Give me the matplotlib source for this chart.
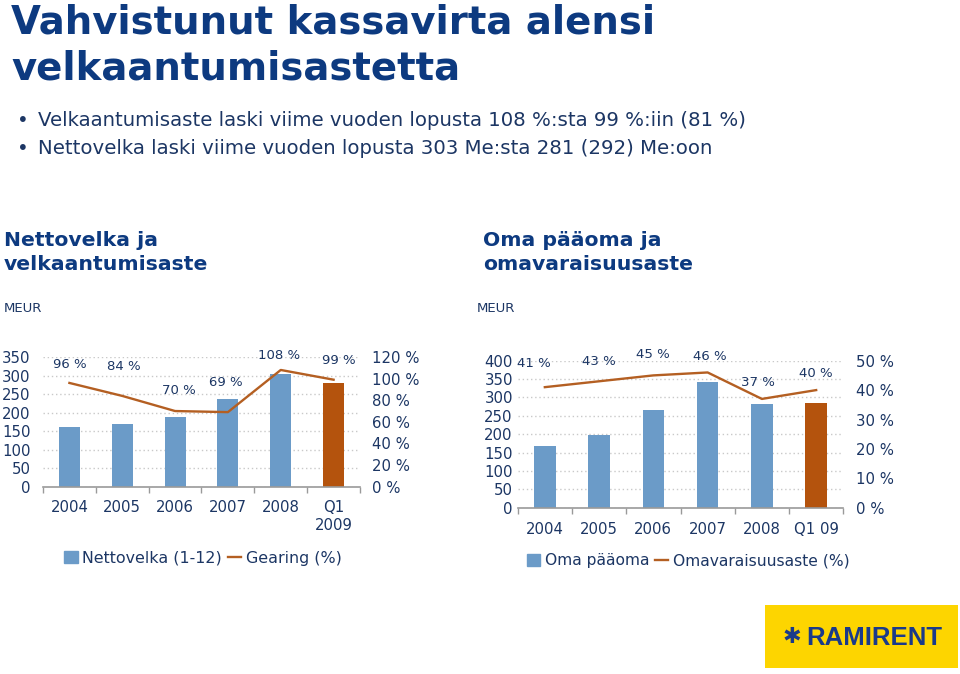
import matplotlib
matplotlib.use("Agg")
import matplotlib.pyplot as plt
from matplotlib.patches import Rectangle, Patch
from matplotlib.lines import Line2D

# ---------------- data ----------------
categories_left = ["2004", "2005", "2006", "2007", "2008", "Q1\n2009"]
nettovelka = [160, 168, 188, 237, 303, 281]
gearing = [96, 84, 70, 69, 108, 99]

categories_right = ["2004", "2005", "2006", "2007", "2008", "Q1 09"]
oma_paaoma = [168, 198, 267, 343, 282, 286]
omavaraisuusaste = [41, 43, 45, 46, 37, 40]

left_yticks = [0, 50, 100, 150, 200, 250, 300, 350]
left_y2ticks = [0, 20, 40, 60, 80, 100, 120]
right_yticks = [0, 50, 100, 150, 200, 250, 300, 350, 400]
right_y2ticks = [0, 10, 20, 30, 40, 50]

# ---------------- style ----------------
W, H = 960, 674
NAVY = "#1c3664"
TITLE = "#0d3a80"
BLUE = "#6b9bc8"
ORANGE_BAR = "#b4530d"
LINE = "#b45f22"
GRID = "#c9c9c9"
AXIS = "#9a9a9a"

fig = plt.figure(figsize=(W / 100, H / 100), dpi=100)
fig.patch.set_facecolor("white")


def rect(x0, y0, x1, y1):
    return [x0 / W, 1 - y1 / H, (x1 - x0) / W, (y1 - y0) / H]


def fx(x):
    return x / W


def fy(y):
    return 1 - y / H


# ---------------- texts ----------------
fig.text(fx(11), fy(33), "Vahvistunut kassavirta alensi", fontsize=27.8, fontweight="bold",
         color=TITLE, va="baseline", ha="left")
fig.text(fx(11), fy(80), "velkaantumisastetta", fontsize=27.8, fontweight="bold",
         color=TITLE, va="baseline", ha="left")

bullets = ["Velkaantumisaste laski viime vuoden lopusta 108 %:sta 99 %:iin (81 %)",
           "Nettovelka laski viime vuoden lopusta 303 Me:sta 281 (292) Me:oon"]
for i, b in enumerate(bullets):
    yy = 126 + i * 28.5
    fig.text(fx(17), fy(yy), "\u2022", fontsize=14.2, color=NAVY, va="baseline", ha="left")
    fig.text(fx(38), fy(yy), b, fontsize=14.2, color=NAVY, va="baseline", ha="left")

fig.text(fx(4), fy(240), "Nettovelka ja", fontsize=14.7, fontweight="bold", color=TITLE, va="center")
fig.text(fx(4), fy(264), "velkaantumisaste", fontsize=14.7, fontweight="bold", color=TITLE, va="center")
fig.text(fx(483), fy(240), "Oma pääoma ja", fontsize=14.7, fontweight="bold", color=TITLE, va="center")
fig.text(fx(483), fy(264), "omavaraisuusaste", fontsize=14.7, fontweight="bold", color=TITLE, va="center")
fig.text(fx(4), fy(309), "MEUR", fontsize=9.5, color=NAVY, va="center")
fig.text(fx(477), fy(309), "MEUR", fontsize=9.5, color=NAVY, va="center")


def style_axes(ax, ax2, cats, ypad_left, ypad_right, xpad):
    for s in ["left", "right", "top"]:
        ax.spines[s].set_visible(False)
        ax2.spines[s].set_visible(False)
    ax2.spines["bottom"].set_visible(False)
    ax.spines["bottom"].set_color(AXIS)
    ax.spines["bottom"].set_linewidth(1.2)
    n = len(cats)
    ax.set_xlim(-0.5, n - 0.5)
    ax.set_xticks(range(n))
    ax.set_xticklabels(cats, fontsize=10.7, color=NAVY, linespacing=1.3)
    ax.set_xticks([i - 0.5 for i in range(n + 1)], minor=True)
    ax.tick_params(axis="x", which="major", length=0, pad=xpad)
    ax.tick_params(axis="x", which="minor", length=4, color=AXIS, width=1)
    ax.tick_params(axis="y", length=0, labelsize=10.7, labelcolor=NAVY, pad=ypad_left)
    ax2.tick_params(axis="y", length=0, labelsize=10.7, labelcolor=NAVY, pad=ypad_right)
    ax.yaxis.grid(True, linestyle=(0, (1, 2)), color=GRID, linewidth=1)
    ax.set_axisbelow(True)
    ax.set_facecolor("none")
    ax2.set_facecolor("none")


# ---------------- left chart ----------------
axL = fig.add_axes(rect(43, 357, 360, 486.7))
axL2 = axL.twinx()
xs = list(range(len(categories_left)))
colsL = [BLUE] * (len(xs) - 1) + [ORANGE_BAR]
axL.bar(xs, nettovelka, width=0.4, color=colsL, zorder=2)
axL.set_ylim(0, 350)
axL.set_yticks(left_yticks)
axL2.plot(xs, gearing, color=LINE, lw=1.7, zorder=3)
axL2.set_ylim(0, 120)
axL2.set_yticks(left_y2ticks)
axL2.set_yticklabels([f"{v} %" for v in left_y2ticks])
style_axes(axL, axL2, categories_left, 9, 9, 9.5)
offsL = [(0, 18), (2, 29), (4, 21), (-2, 30), (-2, 14), (5, 19)]
for x, v, (dx, dy) in zip(xs, gearing, offsL):
    axL2.annotate(f"{v} %", (x, v), xytext=(dx, dy), textcoords="offset pixels",
                  ha="center", va="center", fontsize=9.5, color=NAVY)
fig.legend(handles=[Patch(color=BLUE), Line2D([], [], color=LINE, lw=1.7)],
           labels=["Nettovelka (1-12)", "Gearing (%)"], loc="center",
           bbox_to_anchor=(fx(203), fy(558)), ncol=2, frameon=False, fontsize=11.4,
           handlelength=0.85, handleheight=0.8, handletextpad=0.3, columnspacing=0.35,
           labelcolor=NAVY)

# ---------------- right chart ----------------
axR = fig.add_axes(rect(517.7, 360.7, 843.3, 507.7))
axR2 = axR.twinx()
xs = list(range(len(categories_right)))
colsR = [BLUE] * (len(xs) - 1) + [ORANGE_BAR]
axR.bar(xs, oma_paaoma, width=0.4, color=colsR, zorder=2)
axR.set_ylim(0, 400)
axR.set_yticks(right_yticks)
axR2.plot(xs, omavaraisuusaste, color=LINE, lw=1.7, zorder=3)
axR2.set_ylim(0, 50)
axR2.set_yticks(right_y2ticks)
axR2.set_yticklabels([f"{v} %" for v in right_y2ticks])
style_axes(axR, axR2, categories_right, 3.5, 9.5, 10)
offsR = [(-11, 24), (0, 20), (0, 21), (2, 16), (-4, 16), (0, 17)]
for x, v, (dx, dy) in zip(xs, omavaraisuusaste, offsR):
    axR2.annotate(f"{v} %", (x, v), xytext=(dx, dy), textcoords="offset pixels",
                  ha="center", va="center", fontsize=9.5, color=NAVY)
fig.legend(handles=[Patch(color=BLUE), Line2D([], [], color=LINE, lw=1.7)],
           labels=["Oma pääoma", "Omavaraisuusaste (%)"], loc="center",
           bbox_to_anchor=(fx(688), fy(561)), ncol=2, frameon=False, fontsize=11.2,
           handlelength=0.85, handleheight=0.8, handletextpad=0.3, columnspacing=0.35,
           labelcolor=NAVY)

# ---------------- logo ----------------
fig.patches.append(Rectangle((fx(765), fy(668)), fx(958) - fx(765), fy(605) - fy(668),
                             transform=fig.transFigure, facecolor="#fdd500", edgecolor="none"))
fig.text(fx(792), fy(637), "\u2731", fontsize=16, color="#1a3a8a", ha="center", va="center")
fig.text(fx(806), fy(638), "RAMIRENT", fontsize=18.5, fontweight="bold", family="Liberation Sans",
         color="#1a3a8a", ha="left", va="center")

fig.savefig("out.png", dpi=100)
